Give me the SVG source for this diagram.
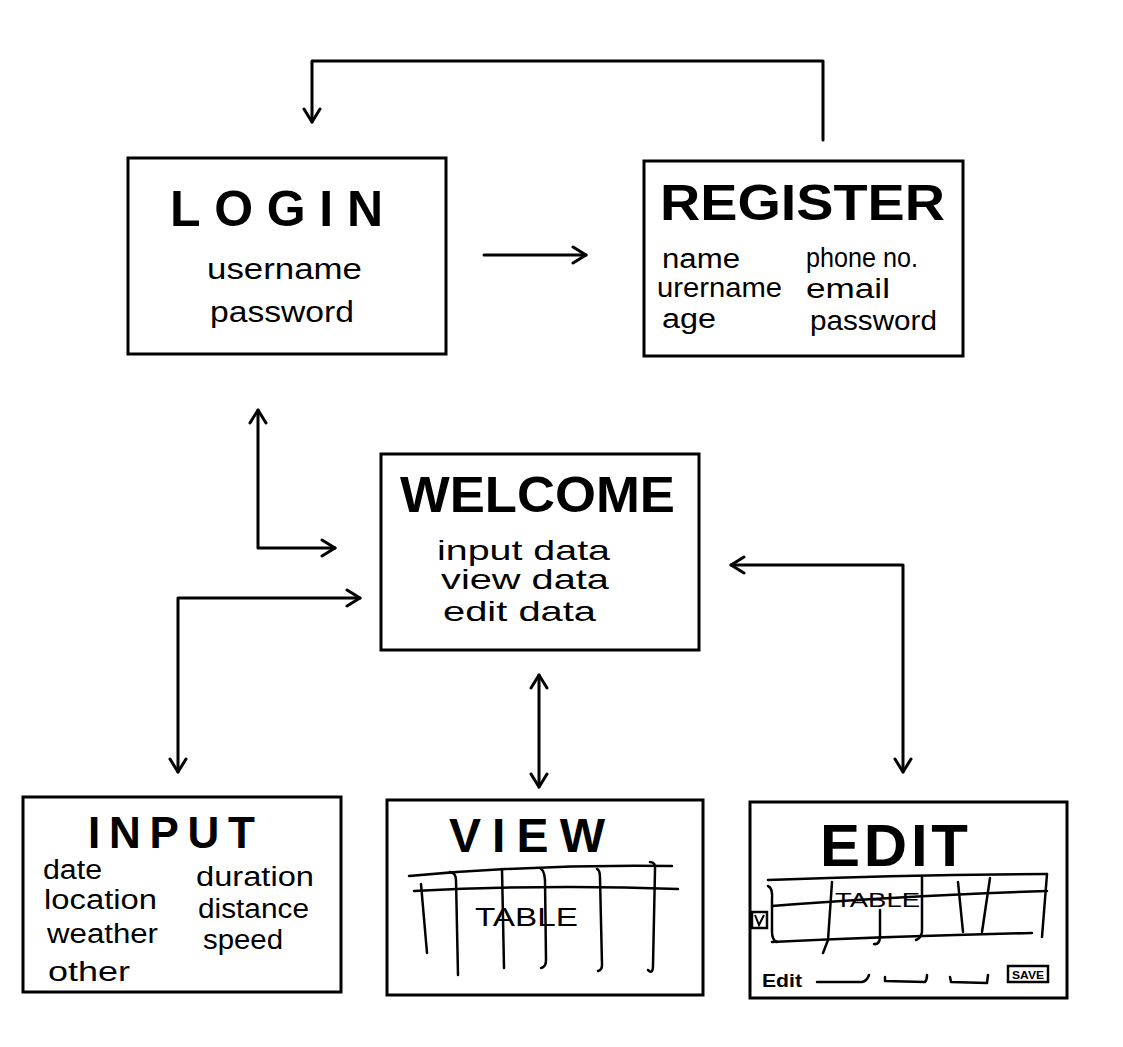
<svg xmlns="http://www.w3.org/2000/svg" width="1123" height="1047" viewBox="0 0 1123 1047">
<defs>
<style>
.box{fill:#fff;stroke:#000;stroke-width:3}
.ln{fill:none;stroke:#000;stroke-width:3;stroke-linecap:round;stroke-linejoin:round}
.tl{fill:none;stroke:#000;stroke-width:2.5;stroke-linecap:round;stroke-linejoin:round}
.title{font-family:"Liberation Sans",Arial,sans-serif;font-weight:bold;fill:#000}
.body{font-family:"Liberation Sans",Arial,sans-serif;fill:#000}
</style>
<marker id="ah" viewBox="0 0 20 20" refX="17" refY="10" markerWidth="20" markerHeight="20" markerUnits="userSpaceOnUse" orient="auto-start-reverse">
<path d="M4,2 L17,10 L4,18" fill="none" stroke="#000" stroke-width="3" stroke-linecap="round" stroke-linejoin="round"/>
</marker>
</defs>
<rect width="1123" height="1047" fill="#fff"/>

<g id="connectors">
<path class="ln" d="M823,140 L823,61 L312,61 L312,122" marker-end="url(#ah)"/>
<path class="ln" d="M484,255 L586,255" marker-end="url(#ah)"/>
<path class="ln" d="M258,410 L258,548 L335,548" marker-start="url(#ah)" marker-end="url(#ah)"/>
<path class="ln" d="M178,772 L178,598 L360,598" marker-start="url(#ah)" marker-end="url(#ah)"/>
<path class="ln" d="M539,675 L539,787" marker-start="url(#ah)" marker-end="url(#ah)"/>
<path class="ln" d="M731,565 L903,565 L903,772" marker-start="url(#ah)" marker-end="url(#ah)"/>
</g>

<g id="login">
<rect class="box" x="128" y="158" width="318" height="196"/>
<text class="title" x="170" y="226" font-size="50" textLength="213" lengthAdjust="spacing">LOGIN</text>
<text class="body" x="207" y="279" font-size="30" textLength="155" lengthAdjust="spacingAndGlyphs">username</text>
<text class="body" x="210" y="322" font-size="30" textLength="144" lengthAdjust="spacingAndGlyphs">password</text>
</g>

<g id="register">
<rect class="box" x="644" y="161" width="319" height="195"/>
<text class="title" x="660" y="220" font-size="50" textLength="285" lengthAdjust="spacingAndGlyphs">REGISTER</text>
<text class="body" x="662" y="268" font-size="27" textLength="78" lengthAdjust="spacingAndGlyphs">name</text>
<text class="body" x="657" y="297" font-size="27" textLength="125" lengthAdjust="spacingAndGlyphs">urername</text>
<text class="body" x="662" y="328" font-size="27" textLength="54" lengthAdjust="spacingAndGlyphs">age</text>
<text class="body" x="806" y="267" font-size="27" textLength="112" lengthAdjust="spacingAndGlyphs">phone no.</text>
<text class="body" x="806" y="298" font-size="27" textLength="84" lengthAdjust="spacingAndGlyphs">email</text>
<text class="body" x="810" y="330" font-size="27" textLength="127" lengthAdjust="spacingAndGlyphs">password</text>
</g>

<g id="welcome">
<rect class="box" x="381" y="454" width="318" height="196"/>
<text class="title" x="400" y="512" font-size="50" textLength="275" lengthAdjust="spacingAndGlyphs">WELCOME</text>
<text class="body" x="437" y="560" font-size="28" textLength="173" lengthAdjust="spacingAndGlyphs">input data</text>
<text class="body" x="441" y="589" font-size="28" textLength="168" lengthAdjust="spacingAndGlyphs">view data</text>
<text class="body" x="443" y="621" font-size="28" textLength="153" lengthAdjust="spacingAndGlyphs">edit data</text>
</g>

<g id="input">
<rect class="box" x="23" y="797" width="318" height="195"/>
<text class="title" x="88" y="848" font-size="44" textLength="167" lengthAdjust="spacing">INPUT</text>
<text class="body" x="43" y="879" font-size="27" textLength="59" lengthAdjust="spacingAndGlyphs">date</text>
<text class="body" x="44" y="909" font-size="27" textLength="113" lengthAdjust="spacingAndGlyphs">location</text>
<text class="body" x="47" y="943" font-size="27" textLength="111" lengthAdjust="spacingAndGlyphs">weather</text>
<text class="body" x="48" y="981" font-size="27" textLength="82" lengthAdjust="spacingAndGlyphs">other</text>
<text class="body" x="196" y="886" font-size="27" textLength="118" lengthAdjust="spacingAndGlyphs">duration</text>
<text class="body" x="198" y="918" font-size="27" textLength="111" lengthAdjust="spacingAndGlyphs">distance</text>
<text class="body" x="203" y="949" font-size="27" textLength="80" lengthAdjust="spacingAndGlyphs">speed</text>
</g>

<g id="view">
<rect class="box" x="387" y="800" width="316" height="195"/>
<text class="title" x="449" y="852" font-size="48" textLength="156" lengthAdjust="spacing">VIEW</text>
<path class="tl" d="M409,876 Q540,864 672,866"/>
<path class="tl" d="M414,891 Q550,884 678,889"/>
<path class="tl" d="M421,884 L427,953"/>
<path class="tl" d="M450,872 Q456,873 456,880 L458,975"/>
<path class="tl" d="M502,869 L504,968"/>
<path class="tl" d="M541,869 Q544,870 545,880 L546,960 Q546,967 541,968"/>
<path class="tl" d="M597,869 Q600,870 600,878 L602,965 Q602,970 598,971"/>
<path class="tl" d="M650,862 Q656,862 655,870 L653,965 Q653,975 648,970"/>
<text class="body" x="475" y="926" font-size="26" textLength="103" lengthAdjust="spacingAndGlyphs">TABLE</text>
</g>

<g id="edit">
<rect class="box" x="750" y="802" width="317" height="196"/>
<text class="title" x="820" y="866" font-size="60" textLength="148" lengthAdjust="spacing">EDIT</text>
<path class="tl" d="M768,880 Q900,875 1047,874"/>
<path class="tl" d="M772,906 Q900,896 1047,891"/>
<path class="tl" d="M772,942 Q900,936 1032,933"/>
<path class="tl" d="M768,886 Q773,888 772,900 L772,932 Q772,940 777,942"/>
<path class="tl" d="M832,882 L828,940 L823,953"/>
<path class="tl" d="M880,910 L880,938 Q879,945 874,944"/>
<path class="tl" d="M922,877 L922,932 Q921,938 916,940"/>
<path class="tl" d="M958,882 L963,932"/>
<path class="tl" d="M990,878 L982,932"/>
<path class="tl" d="M1047,874 L1042,937"/>
<text class="body" x="835" y="907" font-size="21" textLength="85" lengthAdjust="spacingAndGlyphs">TABLE</text>
<rect x="752" y="912" width="15" height="16" fill="#fff" stroke="#000" stroke-width="2.5"/>
<path d="M755,915 L759,925 L764,915" fill="none" stroke="#000" stroke-width="2"/>
<text class="body" x="762" y="987" font-size="18" font-weight="bold" textLength="40" lengthAdjust="spacingAndGlyphs">Edit</text>
<path class="tl" d="M817,982 L862,982 Q867,981 869,975"/>
<path class="tl" d="M885,977 L885,981 L925,982 Q927,980 927,975"/>
<path class="tl" d="M950,977 L951,982 L987,983 L988,975"/>
<rect x="1008" y="966" width="40" height="16" fill="#fff" stroke="#000" stroke-width="2.5"/>
<text class="body" x="1012" y="979" font-size="11" font-weight="bold" textLength="32" lengthAdjust="spacingAndGlyphs">SAVE</text>
</g>
</svg>
